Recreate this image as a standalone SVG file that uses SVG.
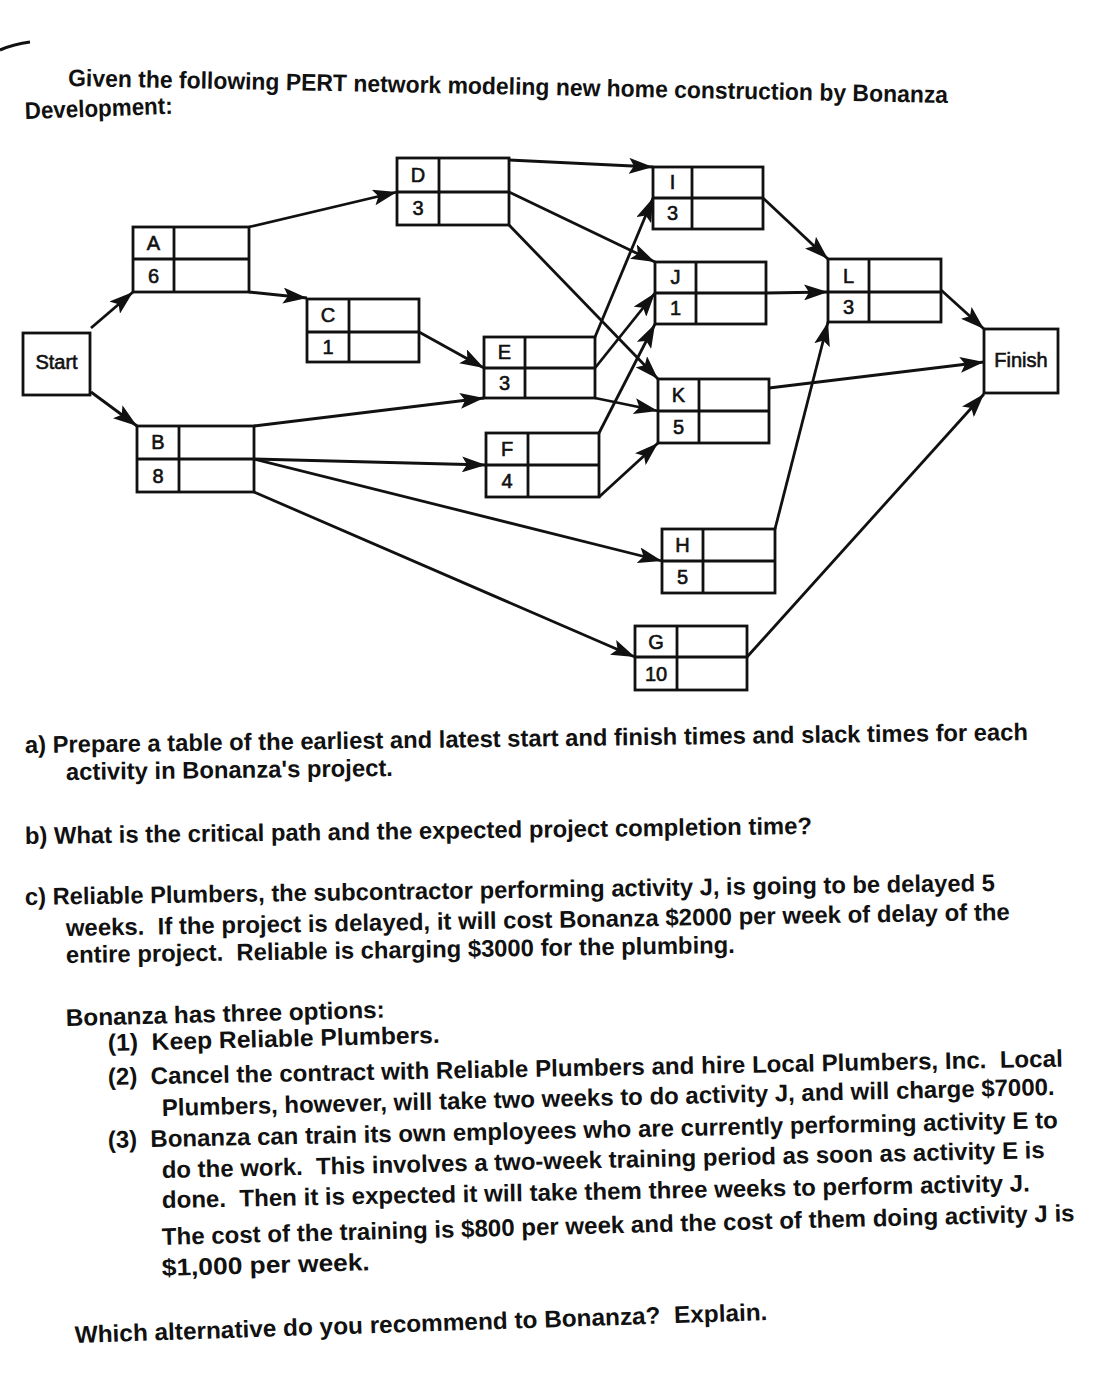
<svg xmlns="http://www.w3.org/2000/svg" width="1100" height="1380" viewBox="0 0 1100 1380">
<defs>
<marker id="ah" viewBox="0 0 24 16" refX="24" refY="8" markerWidth="24" markerHeight="16" markerUnits="userSpaceOnUse" orient="auto">
<path d="M0,0 L24,8 L0,16 L5,8 z" fill="#111"/>
</marker>
<style>
.bx{fill:#fff;stroke:#111;stroke-width:2.8}
.dv{stroke:#111;stroke-width:2.8;fill:none}
.nl{font-family:"Liberation Sans",Arial,sans-serif;font-size:20px;fill:#111;stroke:#111;stroke-width:0.6;text-anchor:middle;dominant-baseline:central}
.ed{stroke:#111;stroke-width:2.8;fill:none;marker-end:url(#ah)}
.q{font-family:"Liberation Sans",Arial,sans-serif;font-size:24px;font-weight:bold;fill:#111;white-space:pre}
</style>
</defs>
<rect width="1100" height="1380" fill="#fff"/>
<path d="M0,50 Q14,44 30,42" stroke="#111" stroke-width="3" fill="none"/>

<text class="q" xml:space="preserve" x="68" y="86" textLength="880" lengthAdjust="spacingAndGlyphs" transform="rotate(1.1 68 86)">Given the following PERT network modeling new home construction by Bonanza</text>
<text class="q" xml:space="preserve" x="25" y="119" textLength="148" lengthAdjust="spacingAndGlyphs" transform="rotate(-2 25 119)">Development:</text>

<g id="connectors">
<line class="ed" x1="91" y1="328" x2="133" y2="292"/>
<line class="ed" x1="91" y1="392" x2="137" y2="426"/>
<line class="ed" x1="249" y1="227" x2="397" y2="192"/>
<line class="ed" x1="249" y1="292" x2="307" y2="298"/>
<line class="ed" x1="419" y1="332" x2="484" y2="368"/>
<line class="ed" x1="254" y1="426" x2="484" y2="398"/>
<line class="ed" x1="254" y1="459" x2="486" y2="465"/>
<line class="ed" x1="254" y1="459" x2="662" y2="561"/>
<line class="ed" x1="254" y1="492" x2="635" y2="657"/>
<line class="ed" x1="509" y1="160" x2="653" y2="167"/>
<line class="ed" x1="509" y1="192" x2="655" y2="262"/>
<line class="ed" x1="509" y1="225" x2="658" y2="379"/>
<line class="ed" x1="595" y1="337" x2="653" y2="198"/>
<line class="ed" x1="595" y1="368" x2="655" y2="293"/>
<line class="ed" x1="595" y1="398" x2="658" y2="411"/>
<line class="ed" x1="599" y1="433" x2="655" y2="324"/>
<line class="ed" x1="599" y1="497" x2="658" y2="443"/>
<line class="ed" x1="763" y1="198" x2="828" y2="259"/>
<line class="ed" x1="766" y1="293" x2="828" y2="292"/>
<line class="ed" x1="775" y1="529" x2="828" y2="322"/>
<line class="ed" x1="941" y1="290" x2="984" y2="329"/>
<line class="ed" x1="769" y1="388" x2="984" y2="362"/>
<line class="ed" x1="747" y1="657" x2="984" y2="394"/>
</g>

<g id="start"><rect class="bx" x="23" y="333" width="67" height="62"/><text class="nl" x="56.5" y="362">Start</text></g>
<g id="finish"><rect class="bx" x="984" y="329" width="74" height="64"/><text class="nl" x="1021" y="360">Finish</text></g>

<g id="nodeA"><rect class="bx" x="133" y="227" width="116" height="65"/><path class="dv" d="M174,227V292M133,259H249"/><text class="nl" x="153.5" y="243">A</text><text class="nl" x="153.5" y="276">6</text></g>
<g id="nodeB"><rect class="bx" x="137" y="426" width="117" height="66"/><path class="dv" d="M179,426V492M137,459H254"/><text class="nl" x="158" y="442">B</text><text class="nl" x="158" y="476">8</text></g>
<g id="nodeC"><rect class="bx" x="307" y="299" width="112" height="63"/><path class="dv" d="M349,299V362M307,332H419"/><text class="nl" x="328" y="315">C</text><text class="nl" x="328" y="347">1</text></g>
<g id="nodeD"><rect class="bx" x="397" y="158" width="112" height="67"/><path class="dv" d="M439,158V225M397,192H509"/><text class="nl" x="418" y="175">D</text><text class="nl" x="418" y="208">3</text></g>
<g id="nodeE"><rect class="bx" x="484" y="337" width="111" height="61"/><path class="dv" d="M525,337V398M484,368H595"/><text class="nl" x="504.5" y="352">E</text><text class="nl" x="504.5" y="383">3</text></g>
<g id="nodeF"><rect class="bx" x="486" y="433" width="113" height="64"/><path class="dv" d="M528,433V497M486,465H599"/><text class="nl" x="507" y="449">F</text><text class="nl" x="507" y="481">4</text></g>
<g id="nodeI"><rect class="bx" x="653" y="167" width="110" height="62"/><path class="dv" d="M692,167V229M653,198H763"/><text class="nl" x="672.5" y="182">I</text><text class="nl" x="672.5" y="213">3</text></g>
<g id="nodeJ"><rect class="bx" x="655" y="262" width="111" height="62"/><path class="dv" d="M696,262V324M655,293H766"/><text class="nl" x="675.5" y="277">J</text><text class="nl" x="675.5" y="308">1</text></g>
<g id="nodeK"><rect class="bx" x="658" y="379" width="111" height="64"/><path class="dv" d="M699,379V443M658,411H769"/><text class="nl" x="678.5" y="395">K</text><text class="nl" x="678.5" y="427">5</text></g>
<g id="nodeH"><rect class="bx" x="662" y="529" width="113" height="64"/><path class="dv" d="M703,529V593M662,561H775"/><text class="nl" x="682.5" y="545">H</text><text class="nl" x="682.5" y="577">5</text></g>
<g id="nodeG"><rect class="bx" x="635" y="626" width="112" height="64"/><path class="dv" d="M677,626V690M635,657H747"/><text class="nl" x="656" y="641.5">G</text><text class="nl" x="656" y="673.5">10</text></g>
<g id="nodeL"><rect class="bx" x="828" y="259" width="113" height="63"/><path class="dv" d="M869,259V322M828,292H941"/><text class="nl" x="848.5" y="275.5">L</text><text class="nl" x="848.5" y="307">3</text></g>

<text class="q" xml:space="preserve" x="25" y="753" textLength="1003" lengthAdjust="spacingAndGlyphs" transform="rotate(-0.74 25 753)">a) Prepare a table of the earliest and latest start and finish times and slack times for each</text>
<text class="q" xml:space="preserve" x="66" y="780" textLength="327" lengthAdjust="spacingAndGlyphs" transform="rotate(-0.7 66 780)">activity in Bonanza's project.</text>
<text class="q" xml:space="preserve" x="25" y="844" textLength="787" lengthAdjust="spacingAndGlyphs" transform="rotate(-0.73 25 844)">b) What is the critical path and the expected project completion time?</text>
<text class="q" xml:space="preserve" x="25" y="905" textLength="970" lengthAdjust="spacingAndGlyphs" transform="rotate(-0.83 25 905)">c) Reliable Plumbers, the subcontractor performing activity J, is going to be delayed 5</text>
<text class="q" xml:space="preserve" x="66" y="936" textLength="944" lengthAdjust="spacingAndGlyphs" transform="rotate(-0.97 66 936)">weeks.  If the project is delayed, it will cost Bonanza $2000 per week of delay of the</text>
<text class="q" xml:space="preserve" x="66" y="963" textLength="669" lengthAdjust="spacingAndGlyphs" transform="rotate(-0.86 66 963)">entire project.  Reliable is charging $3000 for the plumbing.</text>
<text class="q" xml:space="preserve" x="66" y="1026" textLength="319" lengthAdjust="spacingAndGlyphs" transform="rotate(-1.5 66 1026)">Bonanza has three options:</text>
<text class="q" xml:space="preserve" x="108" y="1051" textLength="332" lengthAdjust="spacingAndGlyphs" transform="rotate(-1.4 108 1051)">(1)  Keep Reliable Plumbers.</text>
<text class="q" xml:space="preserve" x="108" y="1085" textLength="955" lengthAdjust="spacingAndGlyphs" transform="rotate(-1.1 108 1085)">(2)  Cancel the contract with Reliable Plumbers and hire Local Plumbers, Inc.  Local</text>
<text class="q" xml:space="preserve" x="162" y="1116" textLength="893" lengthAdjust="spacingAndGlyphs" transform="rotate(-1.35 162 1116)">Plumbers, however, will take two weeks to do activity J, and will charge $7000.</text>
<text class="q" xml:space="preserve" x="108" y="1148" textLength="950" lengthAdjust="spacingAndGlyphs" transform="rotate(-1.2 108 1148)">(3)  Bonanza can train its own employees who are currently performing activity E to</text>
<text class="q" xml:space="preserve" x="162" y="1178" textLength="883" lengthAdjust="spacingAndGlyphs" transform="rotate(-1.3 162 1178)">do the work.  This involves a two-week training period as soon as activity E is</text>
<text class="q" xml:space="preserve" x="162" y="1208" textLength="868" lengthAdjust="spacingAndGlyphs" transform="rotate(-1.1 162 1208)">done.  Then it is expected it will take them three weeks to perform activity J.</text>
<text class="q" xml:space="preserve" x="162" y="1245" textLength="913" lengthAdjust="spacingAndGlyphs" transform="rotate(-1.5 162 1245)">The cost of the training is $800 per week and the cost of them doing activity J is</text>
<text class="q" xml:space="preserve" x="162" y="1276" textLength="208" lengthAdjust="spacingAndGlyphs" transform="rotate(-1.6 162 1276)">$1,000 per week.</text>
<text class="q" xml:space="preserve" x="75" y="1343" textLength="693" lengthAdjust="spacingAndGlyphs" transform="rotate(-1.9 75 1343)">Which alternative do you recommend to Bonanza?  Explain.</text>
</svg>
